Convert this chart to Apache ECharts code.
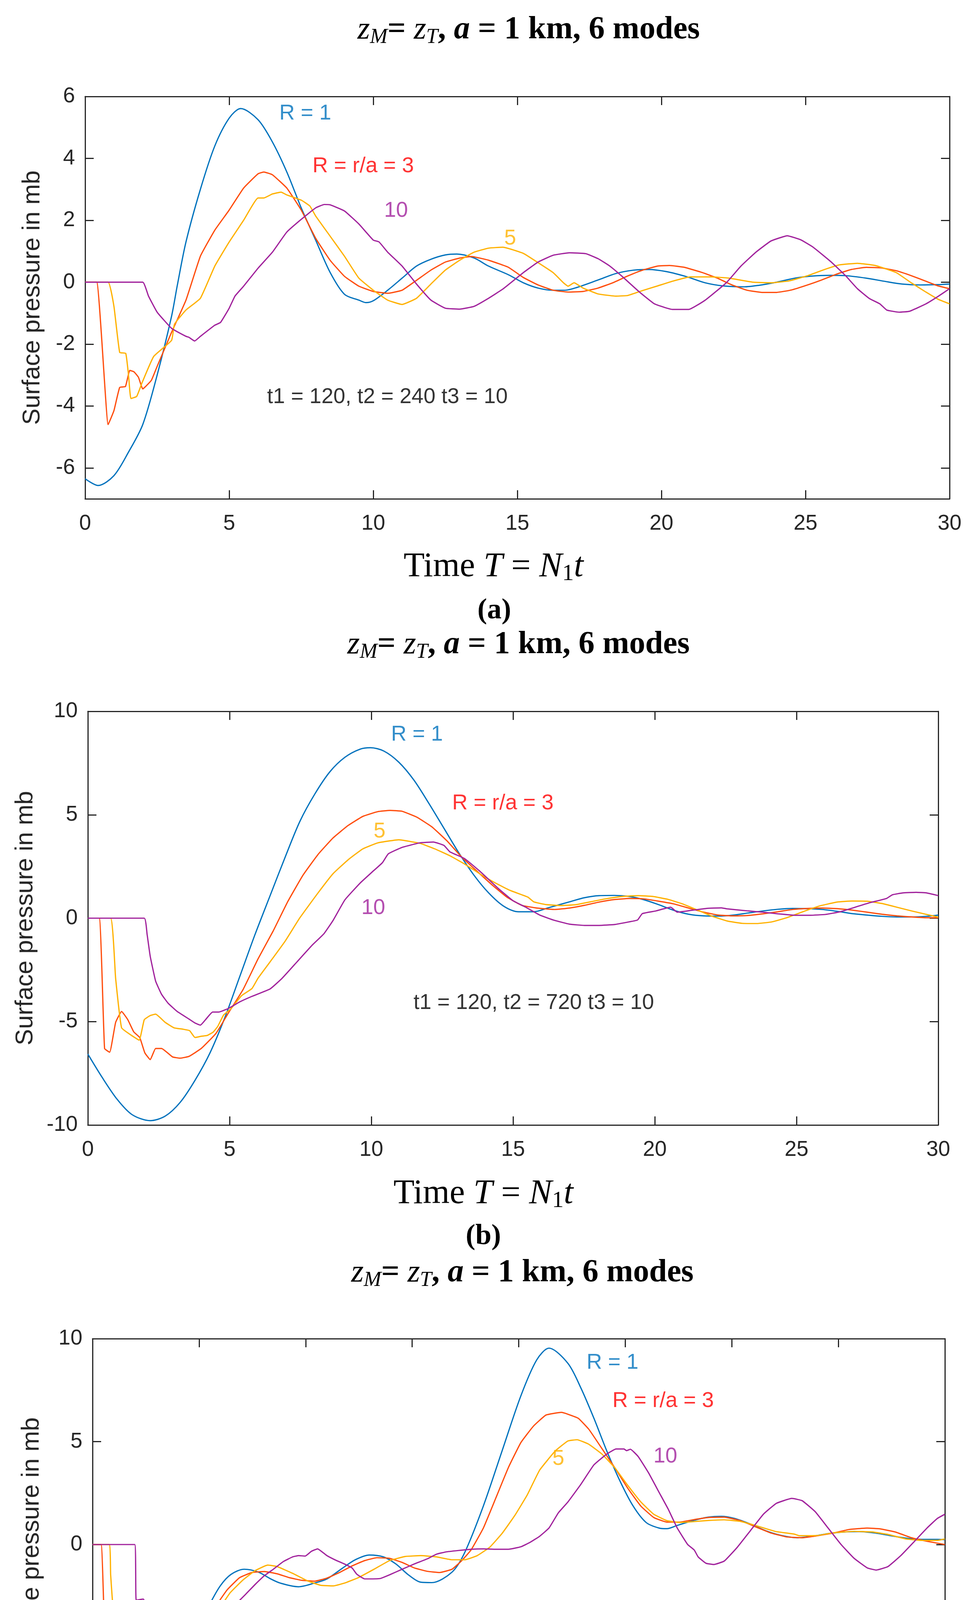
<!DOCTYPE html>
<html><head><meta charset="utf-8">
<script src="https://cdn.jsdelivr.net/npm/echarts@6/dist/echarts.min.js"></script>
<style>html,body{margin:0;padding:0;background:#fff}#c{width:2492px;height:4818px}</style>
</head><body><div id="c"></div><script>
// ---------------- DATA ----------------
const seriesNames = ['R = 1', 'R = 3', 'R = 5', 'R = 10'];
const xTicks30 = [0, 5, 10, 15, 20, 25, 30];
const xTicks40 = [0, 5, 10, 15, 20, 25, 30, 35, 40];
const aYTicks = [-6, -4, -2, 0, 2, 4, 6];
const bYTicks = [-10, -5, 0, 5, 10];
const cYTicks = [-10, -5, 0, 5, 10];

// Panel (a): t1 = 120, t2 = 240
const aR1 = [[0,-6.35],[0.45,-6.57],[1,-6.25],[1.5,-5.5],[2,-4.6],[2.5,-3.0],[3,-1.1],[3.2,-0.1],[3.5,1.3],[4,3.0],[4.5,4.4],[5,5.3],[5.4,5.61],[6,5.25],[6.5,4.53],[7,3.56],[7.5,2.4],[8,1.36],[8.5,0.32],[9,-0.39],[9.5,-0.58],[9.75,-0.66],[10,-0.6],[10.5,-0.26],[11,0.13],[11.5,0.52],[12,0.74],[12.5,0.88],[12.9,0.91],[13.5,0.78],[14,0.52],[14.69,0.24],[15.21,-0.02],[15.72,-0.19],[16.24,-0.26],[16.66,-0.26],[17.07,-0.17],[17.8,0.07],[18.42,0.28],[19.04,0.39],[19.55,0.41],[20.18,0.34],[20.9,0.17],[21.52,-0.02],[22.14,-0.12],[22.87,-0.15],[23.39,-0.1],[24,0],[24.63,0.13],[25.25,0.2],[25.87,0.22],[26.39,0.21],[27.11,0.13],[27.73,0.03],[28.35,-0.06],[28.98,-0.09],[29.6,-0.08],[30,-0.06]];
const aR3 = [[0,0],[0.4,0],[0.8,-4.6],[1.0,-4.15],[1.2,-3.4],[1.4,-3.37],[1.55,-2.85],[1.7,-2.9],[1.85,-3.07],[2.0,-3.45],[2.1,-3.37],[2.3,-3.17],[2.5,-2.72],[3.0,-1.62],[3.5,-0.58],[4.0,0.84],[4.5,1.68],[5.0,2.33],[5.5,3.04],[6.0,3.5],[6.2,3.56],[6.5,3.47],[7.0,3.04],[7.5,2.33],[8.0,1.42],[8.5,0.71],[9.0,0.19],[9.5,-0.13],[10,-0.30],[10.5,-0.36],[11,-0.26],[11.5,0.06],[12,0.39],[12.5,0.65],[13,0.78],[13.4,0.83],[14,0.71],[14.69,0.48],[15.21,0.15],[15.72,-0.09],[16.24,-0.26],[16.76,-0.32],[17.28,-0.3],[17.8,-0.19],[18.31,-0.02],[18.83,0.2],[19.35,0.39],[19.87,0.52],[20.28,0.54],[20.8,0.48],[21.42,0.31],[21.94,0.13],[22.45,-0.09],[22.97,-0.26],[23.49,-0.33],[24.0,-0.33],[24.52,-0.25],[25.04,-0.1],[25.56,0.07],[26.08,0.26],[26.59,0.41],[27.11,0.48],[27.63,0.46],[28.15,0.37],[28.67,0.21],[29.18,0.03],[29.6,-0.12],[30,-0.21]];
const aR5 = [[0,0],[0.8,0],[1.0,-0.78],[1.2,-2.27],[1.41,-2.3],[1.51,-3.04],[1.59,-3.76],[1.79,-3.69],[1.98,-3.24],[2.38,-2.4],[3.0,-1.88],[3.1,-1.36],[3.5,-0.9],[4.0,-0.52],[4.5,0.52],[5.0,1.3],[5.5,2.0],[6.0,2.72],[6.2,2.72],[6.5,2.85],[6.8,2.91],[7.0,2.82],[7.5,2.65],[7.8,2.46],[8.0,2.14],[8.5,1.49],[9.0,0.84],[9.5,0.13],[10,-0.26],[10.5,-0.58],[11,-0.72],[11.5,-0.52],[12,-0.06],[12.5,0.39],[13,0.71],[13.5,0.97],[14,1.1],[14.5,1.13],[15.21,0.93],[15.72,0.63],[16.24,0.31],[16.6,-0.02],[16.76,-0.13],[16.97,-0.02],[17.28,-0.19],[17.8,-0.38],[18.42,-0.45],[18.83,-0.43],[19.35,-0.27],[19.87,-0.12],[20.38,0.03],[21.0,0.17],[21.73,0.17],[22.35,0.13],[23.18,0.0],[23.8,-0.02],[24.42,0.04],[25.04,0.2],[25.66,0.41],[26.18,0.56],[26.8,0.61],[27.42,0.54],[28.15,0.31],[28.67,-0.02],[29.18,-0.32],[29.6,-0.55],[30,-0.7]];
const aR10 = [[0,0],[2.0,0],[2.2,-0.45],[2.5,-0.97],[3.0,-1.49],[3.5,-1.75],[3.6,-1.78],[3.8,-1.9],[4.0,-1.75],[4.5,-1.39],[4.7,-1.3],[5.0,-0.84],[5.2,-0.45],[5.5,-0.13],[6.0,0.45],[6.5,0.97],[7.0,1.62],[7.5,2.03],[8.0,2.4],[8.3,2.51],[8.5,2.5],[9.0,2.3],[9.5,1.88],[10,1.36],[10.2,1.3],[10.5,0.97],[11,0.52],[11.5,-0.06],[12,-0.58],[12.5,-0.84],[13,-0.87],[13.5,-0.78],[14,-0.52],[14.5,-0.22],[15.21,0.31],[15.72,0.65],[16.24,0.87],[16.81,0.95],[17.38,0.92],[17.8,0.76],[18.21,0.52],[18.62,0.2],[19.24,-0.32],[19.76,-0.7],[20.38,-0.88],[20.95,-0.88],[21.52,-0.58],[22.25,-0.02],[22.76,0.52],[23.28,0.97],[23.8,1.33],[24.37,1.5],[24.83,1.37],[25.25,1.14],[25.87,0.67],[26.39,0.21],[26.8,-0.21],[27.22,-0.53],[27.58,-0.7],[27.82,-0.9],[28.25,-0.97],[28.61,-0.94],[29.18,-0.7],[29.6,-0.46],[30,-0.21]];
const aNotes = [[7.64,5.45,'R = 1'],[9.65,3.74,'R = r/a = 3'],[10.79,2.30,'10'],[14.75,1.41,'5'],[10.49,-3.71,'t1 = 120, t2 = 240 t3 = 10']];

// Panel (b): t1 = 120, t2 = 720
const bR1 = [[0,-6.57],[0.51,-7.71],[1.04,-8.77],[1.56,-9.5],[2.2,-9.79],[2.73,-9.57],[3.26,-8.9],[3.78,-7.84],[4.31,-6.51],[4.84,-4.78],[5.37,-2.78],[5.9,-0.78],[6.43,1.09],[6.96,2.95],[7.48,4.68],[8.01,6.01],[8.54,7.08],[9.07,7.78],[9.6,8.17],[9.97,8.24],[10.44,8.08],[10.97,7.54],[11.5,6.68],[12.03,5.55],[12.56,4.35],[13.09,3.15],[13.62,2.08],[14.14,1.22],[14.67,0.58],[15.2,0.31],[15.73,0.31],[16.24,0.5],[16.99,0.79],[17.52,0.99],[18.04,1.09],[18.57,1.1],[19.09,1.05],[19.62,0.89],[20.14,0.65],[20.67,0.38],[21.19,0.19],[21.72,0.11],[22.24,0.1],[22.77,0.15],[23.29,0.25],[23.82,0.35],[24.34,0.43],[24.86,0.47],[25.39,0.46],[25.91,0.42],[26.44,0.33],[26.96,0.22],[27.49,0.15],[28.01,0.09],[28.54,0.06],[29.06,0.06],[29.59,0.09],[30,0.15]];
const bR3 = [[0,0],[0.4,0],[0.59,-6.3],[0.77,-6.48],[0.98,-5.04],[1.19,-4.51],[1.41,-4.91],[1.62,-5.5],[1.83,-5.77],[2.01,-6.51],[2.2,-6.84],[2.39,-6.3],[2.6,-6.3],[2.99,-6.71],[3.26,-6.77],[3.57,-6.68],[4.0,-6.3],[4.52,-5.57],[4.95,-4.6],[5.48,-3.44],[6.0,-1.98],[6.53,-0.64],[7.06,0.82],[7.59,2.08],[8.12,3.08],[8.65,3.88],[9.18,4.48],[9.7,4.92],[10.23,5.15],[10.66,5.21],[11.08,5.17],[11.61,4.88],[12.14,4.41],[12.66,3.75],[13.19,2.95],[13.72,2.28],[14.25,1.62],[14.78,1.02],[15.31,0.62],[15.84,0.49],[16.47,0.42],[16.99,0.49],[17.52,0.62],[18.04,0.78],[18.57,0.9],[19.09,0.95],[19.62,0.93],[20.14,0.82],[20.67,0.69],[21.19,0.49],[21.72,0.29],[22.24,0.15],[22.77,0.11],[23.29,0.13],[23.82,0.21],[24.34,0.31],[24.86,0.42],[25.39,0.47],[25.91,0.49],[26.44,0.46],[26.96,0.39],[27.49,0.29],[28.01,0.19],[28.54,0.11],[29.06,0.06],[29.59,0.02],[30,0.02]];
const bR5 = [[0,0],[0.8,0],[0.98,-2.91],[1.19,-5.3],[1.51,-5.64],[1.81,-5.9],[1.99,-4.91],[2.2,-4.71],[2.39,-4.64],[2.73,-5.04],[3.04,-5.3],[3.36,-5.37],[3.59,-5.44],[3.78,-5.77],[4.0,-5.71],[4.21,-5.67],[4.42,-5.51],[4.58,-5.24],[4.79,-4.68],[5.05,-4.38],[5.42,-3.75],[5.79,-3.4],[6.0,-2.91],[6.43,-2.11],[6.96,-1.11],[7.48,0.02],[8.12,1.22],[8.65,2.15],[9.18,2.82],[9.7,3.35],[10.23,3.64],[10.97,3.79],[11.71,3.62],[12.24,3.35],[12.77,3.02],[13.29,2.62],[13.82,2.15],[14.35,1.72],[14.88,1.35],[15.52,1.02],[15.73,0.79],[16.15,0.66],[16.68,0.61],[17.2,0.65],[17.73,0.79],[18.25,0.93],[18.88,1.05],[19.41,1.09],[19.93,1.05],[20.46,0.91],[20.98,0.69],[21.51,0.39],[22.03,0.09],[22.56,-0.14],[23.08,-0.25],[23.6,-0.26],[24.13,-0.18],[24.65,0.02],[25.18,0.29],[25.81,0.59],[26.44,0.78],[26.96,0.83],[27.49,0.82],[28.01,0.71],[28.54,0.53],[29.06,0.35],[29.59,0.18],[30,0.05]];
const bR10 = [[0,0],[1.99,0],[2.09,-0.78],[2.2,-1.84],[2.39,-3.04],[2.6,-3.68],[2.83,-4.11],[3.15,-4.51],[3.57,-4.88],[3.78,-5.07],[3.97,-5.17],[4.15,-4.91],[4.4,-4.54],[4.61,-4.54],[4.95,-4.37],[5.37,-4.04],[5.79,-3.78],[6.43,-3.42],[6.85,-2.91],[7.38,-2.11],[7.91,-1.31],[8.33,-0.75],[8.65,-0.11],[9.07,0.89],[9.6,1.69],[10.02,2.22],[10.39,2.68],[10.6,3.11],[11.08,3.42],[11.71,3.64],[12.19,3.68],[12.56,3.52],[12.77,3.21],[13.29,2.88],[13.82,2.28],[14.46,1.46],[14.99,0.85],[15.42,0.55],[15.94,0.15],[16.47,-0.11],[16.99,-0.29],[17.52,-0.35],[18.04,-0.35],[18.57,-0.31],[19.09,-0.18],[19.39,-0.09],[19.56,0.22],[20.04,0.35],[20.56,0.53],[20.79,0.29],[21.3,0.38],[21.82,0.47],[22.35,0.5],[22.55,0.45],[23.29,0.35],[23.81,0.29],[24.34,0.21],[24.97,0.14],[25.49,0.14],[26.02,0.18],[26.54,0.31],[27.07,0.53],[27.59,0.75],[28.17,0.95],[28.38,1.13],[28.75,1.22],[29.22,1.25],[29.59,1.22],[30,1.09]];
const bNotes = [[11.61,8.87,'R = 1'],[14.64,5.55,'R = r/a = 3'],[10.29,4.19,'5'],[10.07,0.49,'10'],[15.73,-4.11,'t1 = 120, t2 = 720 t3 = 10']];

// Panel (c): t1 = 120, t2 = 1680
const cR1 = [[0,-6.76],[0.29,-7.49],[0.73,-8.43],[1.17,-9.23],[1.61,-9.77],[1.98,-9.97],[2.42,-9.77],[2.93,-9.1],[3.52,-8.03],[4.11,-6.69],[4.7,-5.08],[5.0,-4.0],[5.5,-2.9],[6.0,-2.0],[6.5,-1.45],[7.12,-1.2],[7.78,-1.34],[8.36,-1.67],[8.8,-1.87],[9.66,-2.05],[10.42,-1.87],[11.0,-1.67],[11.74,-1.14],[12.33,-0.74],[12.99,-0.51],[13.65,-0.6],[14.23,-0.94],[14.82,-1.47],[15.4,-1.83],[15.92,-1.85],[16.87,-1.34],[17.46,-0.4],[18.34,1.87],[19.22,4.55],[20.1,7.22],[20.84,8.96],[21.42,9.54],[22.31,8.8],[22.92,7.6],[23.53,6.13],[24.14,4.53],[24.76,3.07],[25.37,1.87],[25.98,1.07],[26.59,0.8],[26.95,0.77],[27.44,0.93],[28.17,1.16],[28.9,1.33],[29.51,1.37],[30.12,1.27],[30.86,1.0],[31.59,0.67],[32.33,0.44],[33.06,0.33],[33.79,0.4],[34.52,0.53],[35.26,0.61],[35.99,0.63],[36.72,0.56],[37.45,0.43],[38.18,0.31],[38.92,0.25],[39.65,0.25],[40,0.24]];
const cR3 = [[0,0],[0.4,0],[0.59,-5.08],[0.78,-6.13],[1.0,-4.62],[1.25,-4.82],[1.54,-5.22],[1.76,-5.82],[1.98,-6.66],[2.2,-7.17],[2.38,-6.84],[2.61,-6.96],[2.79,-7.05],[3.15,-6.56],[3.52,-6.31],[3.82,-6.02],[4.26,-5.35],[4.7,-4.55],[5.14,-3.88],[5.72,-3.08],[6.31,-2.21],[6.9,-1.61],[7.48,-1.36],[8.07,-1.31],[8.66,-1.42],[9.24,-1.61],[9.83,-1.74],[10.42,-1.78],[11.0,-1.63],[11.59,-1.36],[12.18,-1.04],[12.77,-0.78],[13.35,-0.64],[13.94,-0.67],[14.53,-0.87],[15.11,-1.14],[15.7,-1.3],[16.29,-1.36],[16.87,-1.2],[17.31,-0.8],[17.76,-0.27],[18.34,0.8],[18.93,2.27],[19.52,3.75],[20.1,4.95],[20.69,5.75],[21.28,6.29],[22.0,6.42],[22.31,6.33],[22.8,6.13],[23.29,5.6],[23.9,4.67],[24.51,3.73],[25.12,2.73],[25.73,1.87],[26.34,1.31],[26.95,1.09],[27.56,1.09],[28.17,1.2],[28.9,1.31],[29.64,1.33],[30.37,1.17],[31.1,0.87],[31.84,0.56],[32.57,0.37],[33.3,0.33],[34.03,0.43],[34.77,0.56],[35.5,0.73],[36.35,0.8],[36.96,0.76],[37.7,0.6],[38.43,0.33],[39.16,0.16],[40,0.0]];
const cR5 = [[0,0],[0.78,0],[0.85,-1.47],[1.0,-3.48],[1.25,-4.55],[1.57,-5.35],[1.76,-5.32],[1.98,-4.39],[2.2,-4.62],[2.42,-4.62],[2.61,-4.55],[2.86,-4.88],[3.11,-4.98],[3.52,-5.15],[3.79,-5.46],[4.18,-5.22],[4.37,-5.32],[4.62,-4.55],[4.99,-4.01],[5.43,-3.59],[5.65,-3.55],[6.02,-3.01],[6.46,-2.34],[7.04,-1.74],[7.63,-1.27],[8.22,-1.0],[8.66,-1.07],[9.39,-1.4],[10.12,-1.78],[10.71,-1.98],[11.3,-2.01],[11.89,-1.85],[12.47,-1.61],[13.21,-1.2],[13.94,-0.78],[14.67,-0.58],[15.41,-0.54],[16.14,-0.6],[16.87,-0.74],[17.46,-0.74],[18.05,-0.54],[18.64,-0.13],[19.22,0.54],[19.81,1.4],[20.4,2.41],[20.98,3.61],[21.72,4.55],[22.31,5.03],[22.74,5.09],[23.29,4.87],[23.9,4.4],[24.51,3.73],[25.12,2.87],[25.73,2.07],[26.34,1.47],[26.95,1.16],[27.56,1.07],[28.17,1.11],[28.9,1.17],[29.64,1.2],[30.37,1.13],[31.1,0.93],[32.07,0.63],[32.92,0.51],[33.16,0.43],[34.03,0.44],[34.77,0.57],[35.74,0.64],[36.6,0.61],[37.33,0.49],[38.18,0.27],[38.92,0.2],[39.65,0.2],[40,0.27]];
const cR10 = [[0,0],[1.98,0],[2.05,-2.7],[2.38,-2.65],[2.57,-3.01],[2.79,-3.48],[3.01,-3.95],[3.23,-4.25],[3.52,-4.48],[3.99,-4.82],[4.15,-4.05],[4.37,-4.01],[4.72,-4.12],[5.06,-4.04],[5.36,-3.81],[5.58,-3.75],[5.77,-3.48],[6.16,-3.37],[6.6,-3.01],[7.19,-2.41],[7.63,-1.94],[8.07,-1.51],[8.51,-1.18],[8.95,-0.83],[9.39,-0.6],[9.68,-0.54],[9.98,-0.56],[10.27,-0.33],[10.56,-0.21],[11.0,-0.54],[11.37,-0.74],[11.81,-0.94],[12.18,-1.14],[12.4,-1.44],[12.77,-1.67],[13.5,-1.65],[13.94,-1.47],[14.53,-1.2],[15.11,-0.94],[15.7,-0.7],[16.14,-0.47],[16.58,-0.36],[17.17,-0.29],[17.76,-0.23],[18.34,-0.21],[18.93,-0.23],[19.52,-0.23],[20.1,-0.11],[20.54,0.11],[20.98,0.4],[21.42,0.8],[21.86,1.54],[22.31,2.07],[22.92,2.93],[23.53,3.87],[24.14,4.4],[24.57,4.64],[24.94,4.64],[25.06,4.56],[25.24,4.63],[25.61,4.27],[26.1,3.47],[26.59,2.53],[27.01,1.73],[27.44,0.8],[27.93,0.0],[28.24,-0.27],[28.42,-0.6],[28.79,-0.91],[29.16,-0.97],[29.65,-0.8],[30.26,-0.13],[30.87,0.67],[31.48,1.47],[32.09,2.0],[32.82,2.24],[33.3,2.13],[33.91,1.6],[34.52,0.8],[35.13,0.0],[35.74,-0.67],[36.35,-1.13],[36.78,-1.24],[37.33,-1.07],[37.94,-0.53],[38.55,0.13],[39.16,0.8],[39.65,1.27],[40,1.47]];
const cNotes = [[24.4,8.83,'R = 1'],[26.78,6.96,'R = r/a = 3'],[26.88,4.27,'10'],[21.86,4.15,'5'],[22.03,-5.59,'t1 = 120, t2 = 1680 t3 = 10']];

// ---------------- STYLE ----------------
const INK = '#262626';
const SANS = "'Liberation Sans', Arial, Helvetica, sans-serif";
const SERIF = "'Liberation Serif', 'Times New Roman', serif";
const lineColors = ['#0072BD', '#FF4D0D', '#FFB100', '#A1229C'];
const noteColors = {'R = 1': '#0072BD', 'R = r/a = 3': '#FF0000', '5': '#FFB100', '10': '#A1229C'};

const panels = [
  {grid: {left: 218, top: 247, width: 2214, height: 1030}, xMax: 30, xTicks: xTicks30, yMin: -7, yMax: 6, yTicks: aYTicks,
   lines: [aR1, aR3, aR5, aR10], notes: aNotes, yGap: 103, xGap: 128, xPad: 122,
   title: {x: 1354, y: 77}, tag: {text: '(a)', x: 1266, y: 1564}},
  {grid: {left: 225, top: 1821, width: 2178, height: 1059}, xMax: 30, xTicks: xTicks30, yMin: -10, yMax: 10, yTicks: bYTicks,
   lines: [bR1, bR3, bR5, bR10], notes: bNotes, yGap: 128, xGap: 130, xPad: 152,
   title: {x: 1328, y: 1651}, tag: {text: '(b)', x: 1238, y: 3166}},
  {grid: {left: 237, top: 3427, width: 2183, height: 1054}, xMax: 40, xTicks: xTicks40, yMin: -10, yMax: 10, yTicks: cYTicks,
   lines: [cR1, cR3, cR5, cR10], notes: cNotes, yGap: 124, xGap: 126, xPad: 160,
   title: {x: 1338, y: 3259}, tag: {text: '(c)', x: 1248, y: 4760}}
];

const grid = [], xAxis = [], yAxis = [], series = [], graphic = [];
const tickStyle = {inside: true, length: 22, lineStyle: {color: INK, width: 3}};
const lineAx = {show: true, onZero: false, lineStyle: {color: INK, width: 3}};

const titleRich = {
  zi: {fontFamily: SERIF, fontSize: 82, fontStyle: 'italic', fill: '#000', lineHeight: 92, verticalAlign: 'middle'},
  sub: {fontFamily: SERIF, fontSize: 54, fontStyle: 'italic', fill: '#000', lineHeight: 68, verticalAlign: 'bottom'},
  ai: {fontFamily: SERIF, fontSize: 82, fontStyle: 'italic', fontWeight: 'bold', fill: '#000', lineHeight: 92, verticalAlign: 'middle'},
  b: {fontFamily: SERIF, fontSize: 82, fontWeight: 'bold', fill: '#000', lineHeight: 92, verticalAlign: 'middle'}
};
const titleText = '{zi|z}{sub|M}{b|= }{zi|z}{sub|T}{b|, }{ai|a}{b| = 1 km, 6 modes}';
const xNameText = '{n|Time }{i|T}{n| = }{i|N}{s|1}{i|t}';

panels.forEach((p, g) => {
  grid.push(Object.assign({outerBoundsMode: 'none', containLabel: false}, p.grid));
  xAxis.push({
    gridIndex: g, type: 'value', position: 'bottom', min: 0, max: p.xMax, interval: 5,
    axisLine: lineAx, axisTick: tickStyle, splitLine: {show: false},
    axisLabel: {margin: 36, color: INK, fontSize: 55, fontFamily: SANS},
    name: xNameText, nameLocation: 'middle', nameGap: p.xGap,
    nameTextStyle: {
      padding: [0, p.xPad, 0, 0],
      rich: {
        n: {fontFamily: SERIF, fontSize: 88, color: '#000', lineHeight: 94, verticalAlign: 'middle'},
        i: {fontFamily: SERIF, fontSize: 88, fontStyle: 'italic', color: '#000', lineHeight: 94, verticalAlign: 'middle'},
        s: {fontFamily: SERIF, fontSize: 60, color: '#000', lineHeight: 74, verticalAlign: 'bottom'}
      }
    }
  });
  xAxis.push({
    gridIndex: g, type: 'value', position: 'top', min: 0, max: p.xMax, interval: 5,
    axisLine: lineAx, axisTick: tickStyle, splitLine: {show: false}, axisLabel: {show: false}
  });
  yAxis.push({
    gridIndex: g, type: 'value', position: 'left', min: p.yMin, max: p.yMax,
    axisLine: lineAx, splitLine: {show: false},
    axisTick: Object.assign({customValues: p.yTicks}, tickStyle),
    axisLabel: {customValues: p.yTicks, margin: 26, color: INK, fontSize: 55, fontFamily: SANS},
    name: 'Surface pressure in mb', nameLocation: 'middle', nameGap: p.yGap,
    nameTextStyle: {fontFamily: SANS, fontSize: 63, color: INK}
  });
  yAxis.push({
    gridIndex: g, type: 'value', position: 'right', min: p.yMin, max: p.yMax,
    axisLine: lineAx, splitLine: {show: false},
    axisTick: Object.assign({customValues: p.yTicks}, tickStyle),
    axisLabel: {show: false}
  });
  p.lines.forEach((d, k) => {
    series.push({
      type: 'line', name: seriesNames[k], xAxisIndex: 2 * g, yAxisIndex: 2 * g, data: d,
      showSymbol: false, symbol: 'none', smooth: k === 0 ? 0.3 : 0.12,
      lineStyle: {color: lineColors[k], width: 3.2}, itemStyle: {color: lineColors[k]},
      silent: true, animation: false, z: 2 + k
    });
  });
  series.push({
    type: 'scatter', name: 'notes' + g, xAxisIndex: 2 * g, yAxisIndex: 2 * g,
    data: p.notes.map(d => ({value: d, label: {color: noteColors[d[2]] || '#000'}})),
    symbol: 'circle', symbolSize: 1, itemStyle: {color: 'rgba(0,0,0,0)'}, silent: true, animation: false, z: 10,
    label: {
      show: true, position: 'inside', fontSize: 55, fontFamily: SANS,
      formatter: (q) => (Array.isArray(q.value) ? q.value[2] : q.name),
      color: '#000'
    }
  });
  graphic.push({type: 'text', x: p.title.x, y: p.title.y, silent: true,
    style: {text: titleText, rich: titleRich, align: 'center', verticalAlign: 'middle'}});
  graphic.push({type: 'text', x: p.tag.x, y: p.tag.y, silent: true,
    style: {text: p.tag.text, fontFamily: SERIF, fontSize: 74, fontWeight: 'bold', fill: '#000', align: 'center', verticalAlign: 'middle'}});
});

const chart = echarts.init(document.getElementById('c'), null, {renderer: 'canvas'});
chart.setOption({
  animation: false,
  backgroundColor: '#fff',
  grid, xAxis, yAxis, series, graphic
});
</script></body></html>
